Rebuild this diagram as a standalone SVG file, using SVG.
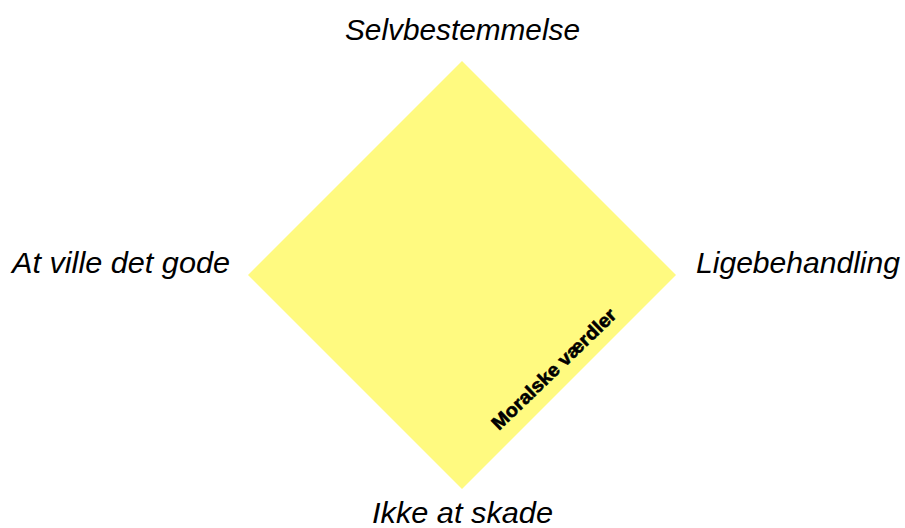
<svg xmlns="http://www.w3.org/2000/svg" width="905" height="528" viewBox="0 0 905 528">
<style>
.lbl{font-family:"Liberation Sans",Arial,sans-serif;font-style:italic;font-size:29px;fill:#000}
.in{font-family:"Liberation Sans",Arial,sans-serif;font-weight:bold;font-size:19px;fill:#000;stroke:#000;stroke-width:0.6}
</style>
<rect width="905" height="528" fill="#fff"/>
<g id="diamond">
<polygon points="462,61 676,275 462,489 248,275" fill="#FFFA80"/>
<text class="in" transform="translate(499,431) rotate(-44)" textLength="165" lengthAdjust="spacingAndGlyphs">Moralske værdler</text>
</g>
<g id="top"><text class="lbl" x="345" y="40" textLength="235" lengthAdjust="spacingAndGlyphs">Selvbestemmelse</text></g>
<g id="left"><text class="lbl" x="12" y="273" textLength="218" lengthAdjust="spacingAndGlyphs">At ville det gode</text></g>
<g id="right"><text class="lbl" x="696" y="273" textLength="204" lengthAdjust="spacingAndGlyphs">Ligebehandling</text></g>
<g id="bottom"><text class="lbl" x="372" y="523" textLength="181" lengthAdjust="spacingAndGlyphs">Ikke at skade</text></g>
<g id="connectors"></g>
</svg>
